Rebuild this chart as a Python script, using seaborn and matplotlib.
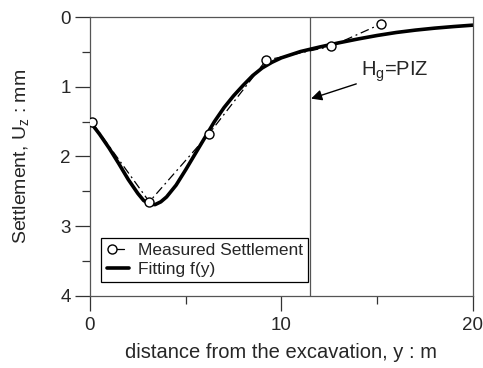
import matplotlib
matplotlib.use("Agg")
import matplotlib.pyplot as plt
import seaborn as sns
import pandas as pd
from matplotlib.lines import Line2D
from matplotlib.legend_handler import HandlerLine2D

# Measured settlement points
meas_y = [0.1, 3.1, 6.2, 9.2, 12.6, 15.2]
meas_u = [1.51, 2.65, 1.68, 0.62, 0.42, 0.10]

# Fitted curve f(y)
fit_y = [0.0, 0.5, 1.0, 1.5, 2.0, 2.5, 2.8, 3.1, 3.4, 3.7, 4.0, 4.5, 5.0, 5.5, 6.0,
         6.5, 7.0, 7.5, 8.0, 8.5, 9.0, 9.5, 10.0, 11.0, 12.0, 13.0, 14.0,
         15.0, 16.0, 17.0, 18.0, 19.0, 20.0]
fit_u = [1.50, 1.68, 1.88, 2.10, 2.33, 2.53, 2.63, 2.68, 2.69, 2.65, 2.58, 2.41, 2.19,
         1.96, 1.73, 1.50, 1.30, 1.13, 0.98, 0.84, 0.73, 0.65, 0.585, 0.495, 0.43,
         0.37, 0.315, 0.265, 0.222, 0.188, 0.16, 0.137, 0.117]

piz_y = 11.5
x_ticks = [0, 10, 20]
y_ticks = [0, 1, 2, 3, 4]


class LeftMarkerHandler(HandlerLine2D):
    def create_artists(self, *args, **kwargs):
        arts = super().create_artists(*args, **kwargs)
        for a in arts:
            if isinstance(a, Line2D) and a.get_marker() not in (None, "None", ""):
                a.set_markevery([0])
        return arts


sns.set_theme(style="ticks")
plt.rcParams['font.family'] = ['Liberation Sans', 'DejaVu Sans']
plt.rcParams['mathtext.fontset'] = 'custom'
plt.rcParams['mathtext.rm'] = 'Liberation Sans'
plt.rcParams['mathtext.it'] = 'Liberation Sans'

fig = plt.figure(figsize=(4.83, 3.68), dpi=100)
ax = fig.add_axes([0.1863, 0.1957, 0.979 - 0.1863, 0.9538 - 0.1957])

df_m = pd.DataFrame({"y": meas_y, "u": meas_u})
df_f = pd.DataFrame({"y": fit_y, "u": fit_u})

dashdot = (0, (7, 3, 1.5, 3))
sns.lineplot(data=df_m, x="y", y="u", ax=ax, color="black", linewidth=0.9,
             linestyle=dashdot, marker="o", markersize=6.5,
             markerfacecolor="white", markeredgecolor="black",
             markeredgewidth=1.0, sort=False, zorder=3)
sns.lineplot(data=df_f, x="y", y="u", ax=ax, color="black", linewidth=2.6,
             sort=False, zorder=2)

ax.axvline(piz_y, color="#555555", linewidth=0.9, zorder=1)

ax.annotate("H$_\\mathregular{g}$=PIZ", xy=(piz_y + 0.05, 1.17),
            xytext=(14.15, 0.78), fontsize=14.5, va="center", ha="left",
            arrowprops=dict(arrowstyle="-|>", color="black", lw=1.0,
                            mutation_scale=16, shrinkA=1, shrinkB=0))

ax.set_xlim(0, 20)
ax.set_ylim(4, 0)
ax.set_xticks(x_ticks)
ax.set_yticks(y_ticks)
ax.set_xticks([5, 15], minor=True)
ax.set_yticks([0.5, 1.5, 2.5, 3.5], minor=True)
ax.tick_params(axis="both", which="major", length=11, width=0.9,
               labelsize=13.5, color="#333333", pad=3)
ax.tick_params(axis="x", which="major", pad=4)
ax.tick_params(axis="both", which="minor", length=6, width=0.9,
               color="#333333")
for s in ax.spines.values():
    s.set_color("#555555")
    s.set_linewidth(0.9)

ax.set_xlabel("distance from the excavation, y : m", fontsize=14.5)
ax.set_ylabel("Settlement, U$_\\mathregular{z}$ : mm", fontsize=14)
ax.xaxis.set_label_coords(0.5, -0.17)
ax.yaxis.set_label_coords(-0.155, 0.5)

meas_handle = Line2D([], [], color="black", linewidth=0.9, marker="o",
                     markersize=6.5, markerfacecolor="white",
                     markeredgecolor="black")
fit_handle = Line2D([], [], color="black", linewidth=2.6)
leg = ax.legend([meas_handle, fit_handle],
                ["Measured Settlement", "Fitting f(y)"],
                handler_map={meas_handle: LeftMarkerHandler(numpoints=2)},
                loc="lower left", bbox_to_anchor=(0.03, 0.05), fontsize=12.5,
                frameon=True, fancybox=False, edgecolor="black",
                framealpha=1, handlelength=1.3, handletextpad=0.5,
                borderpad=0.3, labelspacing=0.2, borderaxespad=0)
leg.get_frame().set_linewidth(0.9)

fig.savefig("out.png", dpi=100)
